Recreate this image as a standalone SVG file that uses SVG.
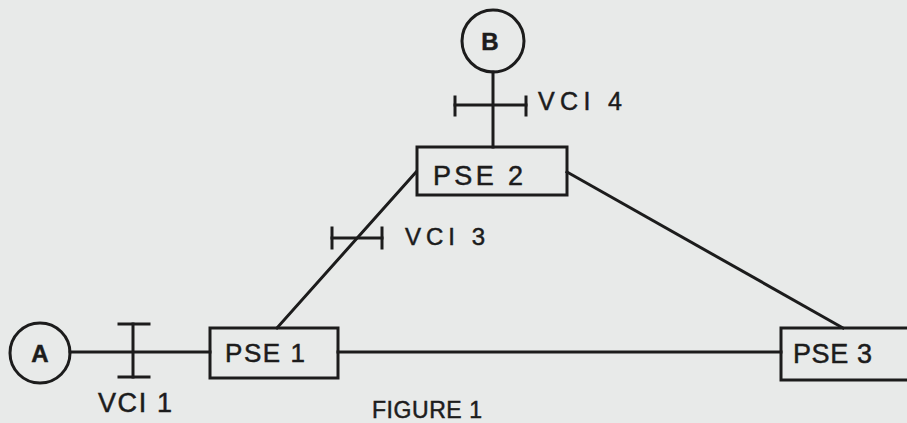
<svg xmlns="http://www.w3.org/2000/svg" width="907" height="423" viewBox="0 0 907 423">
<style>
.ln{stroke:#1c1c1c;stroke-width:3;fill:none;stroke-linecap:square}
.bx{stroke:#1c1c1c;stroke-width:3;fill:none}
.t{font-family:"Liberation Sans",Arial,sans-serif;fill:#1c1c1c;stroke:#1c1c1c;stroke-width:0.5}
</style>
<rect width="907" height="423" fill="#e8eae9"/>
<g id="connectors">
<line class="ln" x1="70" y1="352" x2="210" y2="352"/>
<line class="ln" x1="338" y1="352" x2="781" y2="352"/>
<line class="ln" x1="493" y1="72" x2="493" y2="147"/>
<line class="ln" x1="277" y1="328" x2="416" y2="172"/>
<line class="ln" x1="567" y1="172" x2="843" y2="328"/>
</g>
<g id="vci1">
<line class="ln" x1="133" y1="324" x2="133" y2="377"/>
<line class="ln" x1="119" y1="324" x2="149" y2="324"/>
<line class="ln" x1="119" y1="377" x2="149" y2="377"/>
<text class="t" x="98" y="412" font-size="27" textLength="74" lengthAdjust="spacing">VCI 1</text>
</g>
<g id="vci3">
<line class="ln" x1="332" y1="238" x2="382" y2="238"/>
<line class="ln" x1="332" y1="228" x2="332" y2="248"/>
<line class="ln" x1="382" y1="228" x2="382" y2="248"/>
<text class="t" x="405" y="245" font-size="24" textLength="80" lengthAdjust="spacing">VCI 3</text>
</g>
<g id="vci4">
<line class="ln" x1="455" y1="105" x2="526" y2="105"/>
<line class="ln" x1="455" y1="97" x2="455" y2="115"/>
<line class="ln" x1="526" y1="97" x2="526" y2="115"/>
<text class="t" x="538" y="110" font-size="25" textLength="84" lengthAdjust="spacing">VCI 4</text>
</g>
<g id="A">
<circle class="bx" cx="40" cy="353" r="30"/>
<text class="t" x="40" y="362" font-size="24" font-weight="bold" text-anchor="middle">A</text>
</g>
<g id="B">
<circle class="bx" cx="493" cy="41" r="31"/>
<text class="t" x="490" y="50" font-size="24" font-weight="bold" text-anchor="middle">B</text>
</g>
<g id="PSE1">
<rect class="bx" x="210" y="328" width="128" height="50"/>
<text class="t" x="225" y="362" font-size="26" textLength="80" lengthAdjust="spacing">PSE 1</text>
</g>
<g id="PSE2">
<rect class="bx" x="417" y="147" width="150" height="48"/>
<text class="t" x="433" y="185" font-size="27" textLength="90" lengthAdjust="spacing">PSE 2</text>
</g>
<g id="PSE3">
<rect class="bx" x="781" y="328" width="140" height="52"/>
<text class="t" x="793" y="363" font-size="27" textLength="79" lengthAdjust="spacing">PSE 3</text>
</g>
<text class="t" x="372" y="418" font-size="23" textLength="110" lengthAdjust="spacing">FIGURE 1</text>
</svg>
